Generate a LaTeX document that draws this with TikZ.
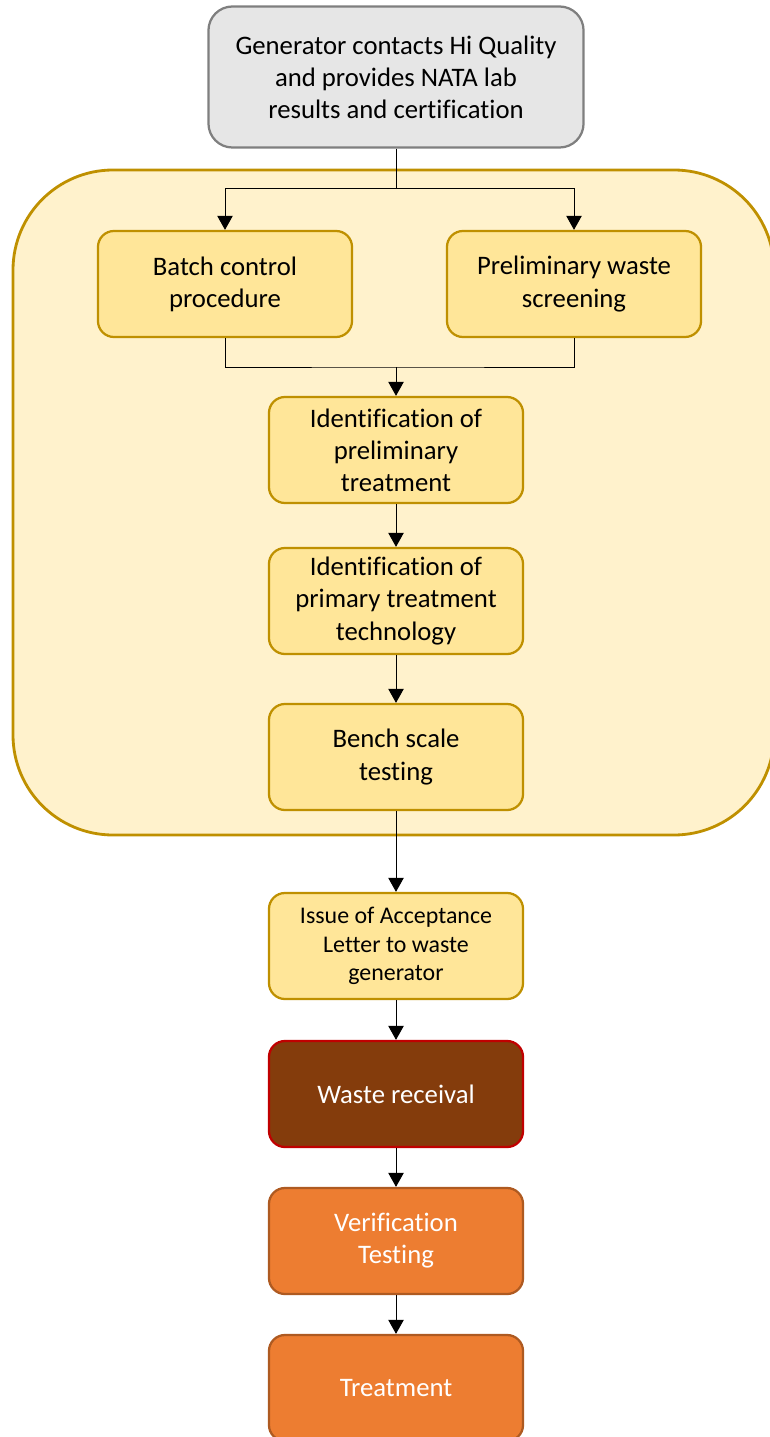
\documentclass[tikz,border=0pt]{standalone}
\usepackage{fontspec}
\setmainfont[Ligatures=NoCommon]{Carlito}
\usepackage{tikz}
\usetikzlibrary{arrows.meta,positioning}
\definecolor{greyfill}{HTML}{E6E6E6}
\definecolor{greyline}{HTML}{7F7F7F}
\definecolor{panelfill}{HTML}{FFF2CC}
\definecolor{goldline}{HTML}{BF9000}
\definecolor{stepfill}{HTML}{FFE699}
\definecolor{brownfill}{HTML}{843C0C}
\definecolor{redline}{HTML}{C00000}
\definecolor{orangefill}{HTML}{ED7D31}
\definecolor{orangeline}{HTML}{AE5A21}

\begin{document}
\begin{tikzpicture}[x=0.025cm,y=-0.025cm,
  font=\fontsize{19}{22.8}\selectfont,
  box/.style={draw,line width=1.6pt,rounded corners=0.4cm,align=center,
    minimum width=6.35cm,minimum height=2.65cm,inner sep=2pt},
  yellowbox/.style={box,fill=stepfill,draw=goldline},
  arr/.style={line width=0.7pt,-{Triangle[width=11pt,length=10pt]}}]
 \useasboundingbox (0,0) rectangle (769,1437);
 \draw[fill=panelfill,draw=goldline,line width=2pt,rounded corners=2.5cm] (13,170) rectangle (774,835);
 \node[box,fill=greyfill,draw=greyline,minimum width=9.375cm,minimum height=3.525cm,rounded corners=0.6cm] (contact) at (396,77)
   {Generator contacts Hi Quality\\and provides NATA lab\\results and certification};
 \node[yellowbox] (batch) at (225,284) {Batch control\\procedure};
 \node[yellowbox] (screen) at (574,284) {Preliminary waste\\screening};
 \node[yellowbox] (idpre) at (396,450) {Identification of\\preliminary\\treatment};
 \node[yellowbox] (idpri) at (396,601) {Identification of\\primary treatment\\technology};
 \node[yellowbox] (bench) at (396,757) {Bench scale\\testing};
 \node[yellowbox,font=\fontsize{17}{20.5}\selectfont] (issue) at (396,946) {Issue of Acceptance\\Letter to waste\\generator};
 \node[box,fill=brownfill,draw=redline,text=white] (receive) at (396,1094) {Waste receival};
 \node[box,fill=orangefill,draw=orangeline,text=white] (verify) at (396,1241) {Verification\\Testing};
 \node[box,fill=orangefill,draw=orangeline,text=white] (treat) at (396,1388) {Treatment};
 \coordinate (split) at (396,188);
 \coordinate (join) at (396,367);
 \draw[line width=0.7pt] (contact.south) -- (split);
 \draw[arr] (split) -| (batch.north);
 \draw[arr] (split) -| (screen.north);
 \draw[line width=0.7pt] (batch.south) |- (join) -| (screen.south);
 \draw[arr] (join) -- (idpre.north);
 \draw[arr] (idpre) -- (idpri);
 \draw[arr] (idpri) -- (bench);
 \draw[arr] (bench) -- (issue);
 \draw[arr] (issue) -- (receive);
 \draw[arr] (receive) -- (verify);
 \draw[arr] (verify) -- (treat);
\end{tikzpicture}
\end{document}
